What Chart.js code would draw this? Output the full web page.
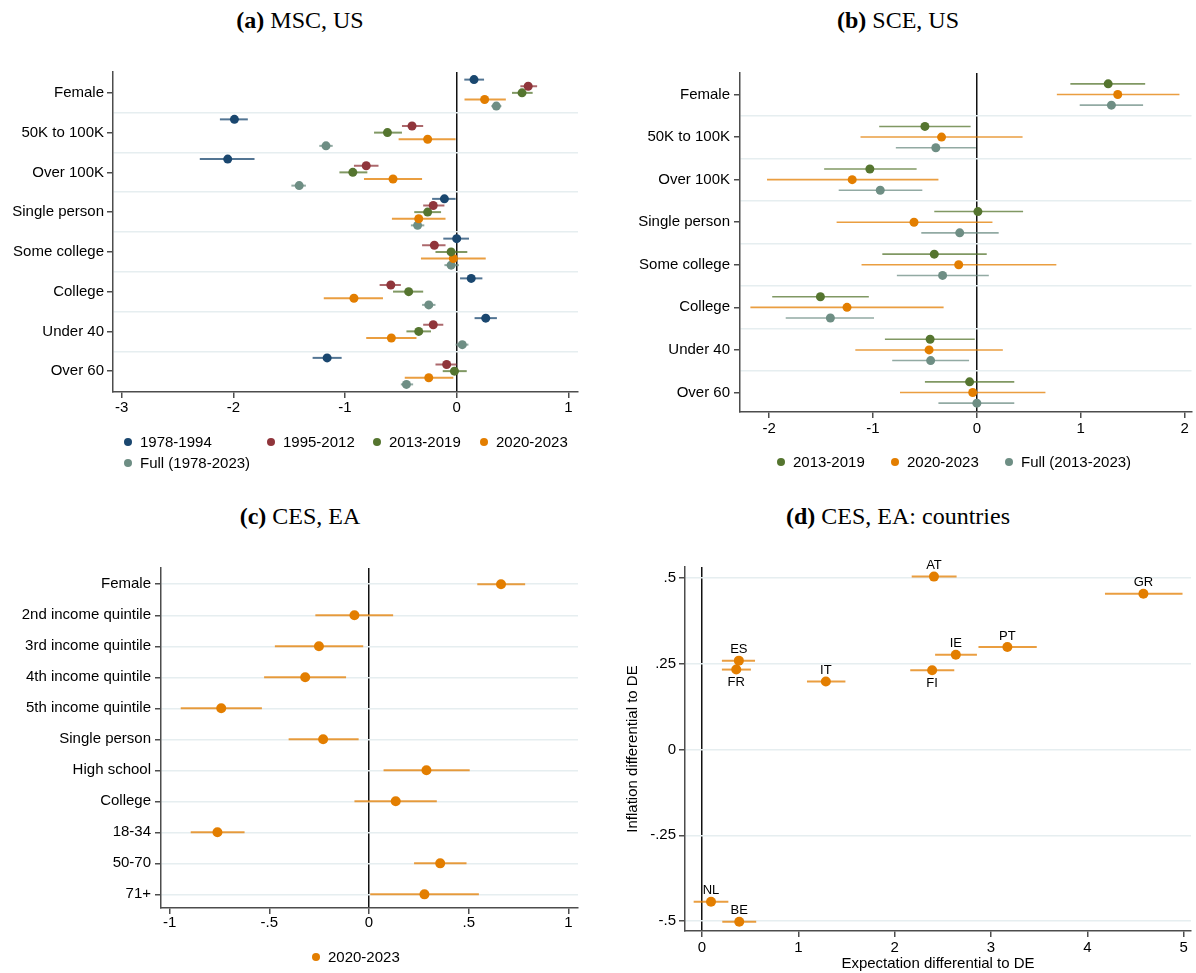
<!DOCTYPE html>
<html>
<head>
<meta charset="utf-8">
<script src="https://cdn.jsdelivr.net/npm/chart.js@4.4.0/dist/chart.umd.min.js"></script>
<style>
  body { margin: 0; width: 1196px; height: 973px; position: relative; background: #fff; overflow: hidden;
         font-family: "Liberation Sans", Arial, sans-serif; }
  canvas { position: absolute; }
  .ttl { position: absolute; width: 600px; text-align: center; line-height: 30px;
         font-family: "Liberation Serif", "Times New Roman", serif; font-size: 24px; color: #000; }
  .leg { position: absolute; font-size: 15px; line-height: 18px; color: #000; white-space: nowrap; }
  .dot { position: absolute; width: 8px; height: 8px; border-radius: 50%; }
</style>
</head>
<body>

<div class="ttl" style="left:0;top:5px"><b>(a)</b> MSC, US</div>
<div class="ttl" style="left:598px;top:5px"><b>(b)</b> SCE, US</div>
<div class="ttl" style="left:0;top:501px"><b>(c)</b> CES, EA</div>
<div class="ttl" style="left:598px;top:501px"><b>(d)</b> CES, EA: countries</div>

<canvas id="chartMsc" width="600" height="380" style="left:0;top:60px"></canvas>
<canvas id="chartSce" width="596" height="400" style="left:600px;top:60px"></canvas>
<canvas id="chartCes" width="600" height="400" style="left:0;top:555px"></canvas>
<canvas id="chartCountries" width="596" height="418" style="left:600px;top:555px"></canvas>

<script>
// ---- data: [estimate, lower, upper] per category ----
const mscCats = ['Female', '50K to 100K', 'Over 100K', 'Single person', 'Some college', 'College', 'Under 40', 'Over 60'];
const msc7894 = [[0.155, 0.068, 0.245], [-1.99, -2.12, -1.87], [-2.05, -2.30, -1.81], [-0.11, -0.22, -0.01],
                 [0.00, -0.12, 0.11], [0.13, 0.03, 0.23], [0.26, 0.16, 0.36], [-1.16, -1.29, -1.03]];
const msc9512 = [[0.64, 0.57, 0.72], [-0.40, -0.49, -0.30], [-0.81, -0.92, -0.70], [-0.21, -0.30, -0.11],
                 [-0.20, -0.31, -0.10], [-0.59, -0.69, -0.50], [-0.21, -0.30, -0.12], [-0.09, -0.19, 0.00]];
const msc1319 = [[0.585, 0.495, 0.68], [-0.62, -0.74, -0.49], [-0.93, -1.05, -0.80], [-0.26, -0.38, -0.14],
                 [-0.05, -0.19, 0.095], [-0.43, -0.57, -0.30], [-0.34, -0.45, -0.23], [-0.02, -0.125, 0.09]];
const msc2023 = [[0.25, 0.07, 0.44], [-0.26, -0.52, -0.01], [-0.57, -0.83, -0.31], [-0.34, -0.58, -0.10],
                 [-0.03, -0.32, 0.26], [-0.92, -1.19, -0.66], [-0.585, -0.81, -0.36], [-0.25, -0.465, -0.03]];
const mscFull = [[0.355, 0.31, 0.40], [-1.17, -1.23, -1.11], [-1.41, -1.48, -1.35], [-0.35, -0.41, -0.29],
                 [-0.05, -0.11, 0.02], [-0.25, -0.31, -0.19], [0.05, -0.01, 0.105], [-0.45, -0.50, -0.39]];

const sceCats = ['Female', '50K to 100K', 'Over 100K', 'Single person', 'Some college', 'College', 'Under 40', 'Over 60'];
const sce1319 = [[1.264, 0.90, 1.62], [-0.50, -0.94, -0.06], [-1.03, -1.47, -0.58], [0.01, -0.41, 0.445],
                 [-0.41, -0.91, 0.095], [-1.506, -1.97, -1.04], [-0.45, -0.885, -0.02], [-0.07, -0.50, 0.36]];
const sce2023 = [[1.356, 0.77, 1.95], [-0.34, -1.12, 0.44], [-1.20, -2.02, -0.37], [-0.605, -1.35, 0.15],
                 [-0.175, -1.11, 0.765], [-1.25, -2.18, -0.32], [-0.46, -1.17, 0.25], [-0.04, -0.74, 0.66]];
const sceFull = [[1.295, 0.99, 1.60], [-0.395, -0.78, -0.01], [-0.93, -1.33, -0.525], [-0.165, -0.535, 0.21],
                 [-0.33, -0.77, 0.115], [-1.41, -1.84, -0.99], [-0.445, -0.815, -0.075], [0.0, -0.37, 0.36]];

const cesCats = ['Female', '2nd income quintile', '3rd income quintile', '4th income quintile', '5th income quintile',
                 'Single person', 'High school', 'College', '18-34', '50-70', '71+'];
const ces2023 = [[0.662, 0.543, 0.783], [-0.073, -0.269, 0.121], [-0.251, -0.472, -0.029], [-0.32, -0.526, -0.115],
                 [-0.741, -0.944, -0.537], [-0.23, -0.403, -0.052], [0.288, 0.073, 0.505], [0.134, -0.073, 0.34],
                 [-0.76, -0.894, -0.624], [0.357, 0.226, 0.489], [0.278, 0.006, 0.551]];

const countries = ['AT', 'GR', 'PT', 'IE', 'ES', 'FR', 'IT', 'FI', 'NL', 'BE'];
const expDiff   = [2.408, 4.582, 3.17, 2.635, 0.383, 0.356, 1.286, 2.389, 0.094, 0.387];
const expLo     = [2.177, 4.183, 2.87, 2.42, 0.207, 0.207, 1.09, 2.162, -0.086, 0.211];
const expHi     = [2.643, 4.988, 3.475, 2.854, 0.551, 0.508, 1.489, 2.619, 0.274, 0.563];
const inflDiff  = [0.504, 0.454, 0.299, 0.276, 0.259, 0.233, 0.198, 0.231, -0.444, -0.502];
const labelsBelow = ['FR', 'FI'];

const mscTicks = [-3, -2, -1, 0, 1];
const sceTicks = [-2, -1, 0, 1, 2];
const cesTicks = [-1, -0.5, 0, 0.5, 1];
const expTicks = [0, 1, 2, 3, 4, 5];
const inflTicks = [-0.5, -0.25, 0, 0.25, 0.5];

// ---- look ----
const FONT = '"Liberation Sans", Arial, sans-serif';
const AXIS = '#4d4d4d';
const GRID = '#e6eef0';
const ZERO = '#111111';
const NONE = 'rgba(0,0,0,0)';
const colors = {
  navy:   ['#1a476f', 'rgba(26,71,111,0.75)'],
  maroon: ['#90353b', 'rgba(144,53,59,0.75)'],
  green:  ['#55752f', 'rgba(85,117,47,0.75)'],
  orange: ['#e37e00', 'rgba(227,126,0,0.75)'],
  teal:   ['#6e8e84', 'rgba(110,142,132,0.75)']
};

function stataNum(v) {
  if (v === 0) return '0';
  return (v < 0 ? '-' : '') + String(Math.abs(v)).replace(/^0\./, '.');
}

function fixedTicks(list) {
  return function (scale) { scale.ticks = list.map(function (v) { return { value: v }; }); };
}

// horizontal confidence intervals, drawn under the markers
const errorBars = {
  id: 'errorBars',
  beforeDatasetsDraw(chart) {
    const ctx = chart.ctx, x = chart.scales.x, y = chart.scales.y;
    chart.data.datasets.forEach(function (ds) {
      ctx.save();
      ctx.strokeStyle = ds.ciColor;
      ctx.lineWidth = ds.ciWidth;
      ds.data.forEach(function (p) {
        const py = y.getPixelForValue(p.y);
        ctx.beginPath();
        ctx.moveTo(x.getPixelForValue(p.lo), py);
        ctx.lineTo(x.getPixelForValue(p.hi), py);
        ctx.stroke();
      });
      ctx.restore();
    });
  }
};

function xAxis(ticks, min, max, height, pad) {
  return {
    type: 'linear', min: min, max: max,
    afterBuildTicks: fixedTicks(ticks),
    afterFit: function (s) { s.height = height; },
    ticks: { autoSkip: false, maxRotation: 0, padding: pad, color: '#000', font: { family: FONT, size: 15 },
             callback: function (v) { return stataNum(v); } },
    grid: { color: function (c) { return c.tick && c.tick.value === 0 ? ZERO : NONE; },
            lineWidth: 1.5, tickColor: AXIS, tickWidth: 1.5, tickLength: 6 },
    border: { display: true, color: AXIS, width: 1.5 }
  };
}

function forestChart(id, cats, series, o) {
  const n = series.length;
  const datasets = series.map(function (s, k) {
    const off = (k - (n - 1) / 2) * o.step;
    return {
      label: s.label,
      data: s.values.map(function (r, i) { return { x: r[0], lo: r[1], hi: r[2], y: i + 1 + off }; }),
      backgroundColor: s.color[0], borderColor: s.color[0],
      pointRadius: o.radius, pointBorderWidth: 0,
      ciColor: s.color[1], ciWidth: o.ciWidth
    };
  });
  const catTicks = [];
  for (let i = 1; i <= cats.length; i++) {
    catTicks.push(i);
    if (o.between && i < cats.length) catTicks.push(i + 0.5);
  }
  new Chart(document.getElementById(id), {
    type: 'scatter',
    data: { datasets: datasets },
    options: {
      responsive: false, animation: false,
      layout: { padding: { top: o.padTop, right: o.padRight, left: 0, bottom: 0 } },
      plugins: { legend: { display: false }, tooltip: { enabled: false } },
      scales: {
        x: xAxis(o.xTicks, o.xMin, o.xMax, o.xHeight, o.xPad),
        y: {
          type: 'linear', reverse: true, min: o.yMin, max: o.yMax,
          afterBuildTicks: fixedTicks(catTicks),
          afterFit: function (s) { s.width = o.yWidth; },
          ticks: { autoSkip: false, padding: o.yPad, color: '#000', font: { family: FONT, size: 15 },
                   callback: function (v) { return Number.isInteger(v) ? cats[v - 1] : ''; } },
          grid: {
            color: function (c) {
              if (!c.tick) return NONE;
              if (o.between) return Number.isInteger(c.tick.value) ? NONE : GRID;
              return GRID;
            },
            lineWidth: 1.5,
            tickColor: function (c) { return c.tick && Number.isInteger(c.tick.value) ? AXIS : NONE; },
            tickWidth: 1.5, tickLength: 6
          },
          border: { display: true, color: AXIS, width: 1.5 }
        }
      }
    },
    plugins: [errorBars]
  });
}

// (a) MSC, US
forestChart('chartMsc', mscCats, [
  { label: '1978-1994', values: msc7894, color: colors.navy },
  { label: '1995-2012', values: msc9512, color: colors.maroon },
  { label: '2013-2019', values: msc1319, color: colors.green },
  { label: '2020-2023', values: msc2023, color: colors.orange },
  { label: 'Full (1978-2023)', values: mscFull, color: colors.teal }
], { step: 1 / 6, radius: 4.5, ciWidth: 2, between: true,
     xTicks: mscTicks, xMin: -3.077, xMax: 1.086, xHeight: 48, xPad: 1,
     yMin: 0.475, yMax: 8.525, yWidth: 113, yPad: 3, padTop: 10, padRight: 22 });

// (b) SCE, US
forestChart('chartSce', sceCats, [
  { label: '2013-2019', values: sce1319, color: colors.green },
  { label: '2020-2023', values: sce2023, color: colors.orange },
  { label: 'Full (2013-2023)', values: sceFull, color: colors.teal }
], { step: 0.25, radius: 4.5, ciWidth: 1.6, between: true,
     xTicks: sceTicks, xMin: -2.28, xMax: 2.066, xHeight: 48, xPad: 2,
     yMin: 0.495, yMax: 8.458, yWidth: 140, yPad: 4, padTop: 12, padRight: 1 });

// (c) CES, EA
forestChart('chartCes', cesCats, [
  { label: '2020-2023', values: ces2023, color: colors.orange }
], { step: 0, radius: 5, ciWidth: 2, between: false,
     xTicks: cesTicks, xMin: -1.043, xMax: 1.048, xHeight: 47, xPad: 0,
     yMin: 0.476, yMax: 11.44, yWidth: 161, yPad: 4, padTop: 12, padRight: 22 });

// (d) CES, EA: countries
const countryLabels = {
  id: 'countryLabels',
  afterDatasetsDraw(chart) {
    const ctx = chart.ctx;
    const meta = chart.getDatasetMeta(0);
    ctx.save();
    ctx.font = '13px ' + FONT;
    ctx.fillStyle = '#000';
    ctx.textAlign = 'center';
    ctx.textBaseline = 'middle';
    meta.data.forEach(function (pt, i) {
      const below = labelsBelow.indexOf(countries[i]) >= 0;
      ctx.fillText(countries[i], pt.x, pt.y + (below ? 13 : -11));
    });
    ctx.restore();
  }
};

const dx = xAxis(expTicks, -0.176, 5.076, 42, 2);
dx.title = { display: true, text: 'Expectation differential to DE', color: '#000',
             font: { family: FONT, size: 15 }, padding: { top: 0, bottom: 0 } };

new Chart(document.getElementById('chartCountries'), {
  type: 'scatter',
  data: {
    datasets: [{
      label: '2020-2023',
      data: countries.map(function (c, i) { return { x: expDiff[i], lo: expLo[i], hi: expHi[i], y: inflDiff[i] }; }),
      backgroundColor: colors.orange[0], borderColor: colors.orange[0],
      pointRadius: 5, pointBorderWidth: 0,
      ciColor: colors.orange[1], ciWidth: 2
    }]
  },
  options: {
    responsive: false, animation: false,
    layout: { padding: { top: 12, right: 0, left: 0, bottom: 0 } },
    plugins: { legend: { display: false }, tooltip: { enabled: false } },
    scales: {
      x: dx,
      y: {
        type: 'linear', min: -0.529, max: 0.532,
        afterBuildTicks: fixedTicks(inflTicks),
        afterFit: function (s) { s.width = 85; },
        ticks: { autoSkip: false, padding: 3, color: '#000', font: { family: FONT, size: 15 },
                 callback: function (v) { return stataNum(v); } },
        grid: { color: GRID, lineWidth: 1.5, tickColor: AXIS, tickWidth: 1.5, tickLength: 6 },
        border: { display: true, color: AXIS, width: 1.5 },
        title: { display: true, text: 'Inflation differential to DE', color: '#000',
                 font: { family: FONT, size: 15 }, padding: { top: 24, bottom: 0 } }
      }
    }
  },
  plugins: [errorBars, countryLabels]
});

// ---- legends (Stata-style, below the panels) ----
function legendItem(x, y, color, text) {
  const d = document.createElement('div');
  d.className = 'dot';
  d.style.left = (x - 4) + 'px';
  d.style.top = (y - 4) + 'px';
  d.style.background = color;
  document.body.appendChild(d);
  const t = document.createElement('div');
  t.className = 'leg';
  t.style.left = (x + 12) + 'px';
  t.style.top = (y - 9) + 'px';
  t.textContent = text;
  document.body.appendChild(t);
}

legendItem(128, 442, colors.navy[0], '1978-1994');
legendItem(271, 442, colors.maroon[0], '1995-2012');
legendItem(377, 442, colors.green[0], '2013-2019');
legendItem(484, 442, colors.orange[0], '2020-2023');
legendItem(128, 463, colors.teal[0], 'Full (1978-2023)');

legendItem(781, 462, colors.green[0], '2013-2019');
legendItem(895, 462, colors.orange[0], '2020-2023');
legendItem(1009, 462, colors.teal[0], 'Full (2013-2023)');

legendItem(316, 957, colors.orange[0], '2020-2023');
</script>
</body>
</html>
